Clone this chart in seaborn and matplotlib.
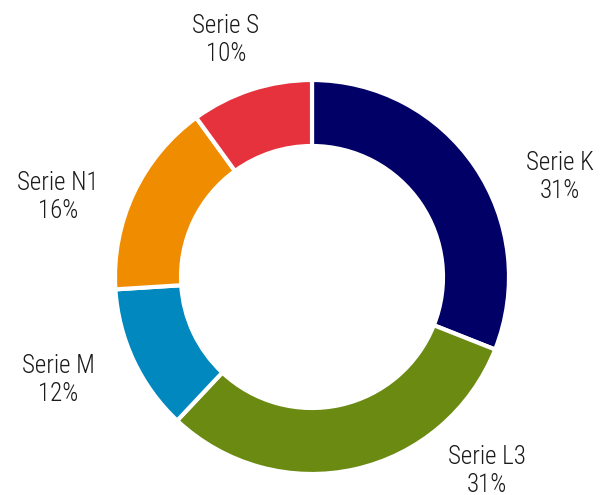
import matplotlib
matplotlib.use("Agg")
import matplotlib.pyplot as plt
import seaborn as sns
from matplotlib import font_manager

series = ["Serie K", "Serie L3", "Serie M", "Serie N1", "Serie S"]
shares = [31, 31, 12, 16, 10]
colors = ["#000066", "#6A8A12", "#0088BF", "#F08C00", "#E5323C"]

# label anchor positions (pixels, top-left origin) for the two-line labels
label_x = [560, 487, 58, 58, 226]
label_y = [177, 471, 380, 197, 40]

sns.set_theme(style="white")
names = {f.name for f in font_manager.fontManager.ttflist}
fam = [f for f in ["Roboto Condensed", "Liberation Sans Narrow", "Roboto", "DejaVu Sans"] if f in names]
plt.rcParams["font.family"] = fam

W, H = 601, 495
fig = plt.figure(figsize=(W / 100, H / 100), dpi=100)
ax = fig.add_axes([0, 0, 1, 1])

cx, cy, R = 312, H - 277, 197
ax.pie(shares, colors=colors, startangle=90, counterclock=False,
       center=(cx, cy), radius=R, frame=True,
       wedgeprops=dict(width=R - 131, edgecolor="white", linewidth=3))
ax.set_xlim(0, W)
ax.set_ylim(0, H)
ax.set_aspect("equal")
ax.axis("off")

for name, v, x, y in zip(series, shares, label_x, label_y):
    ax.text(x, H - y, f"{name}\n{v}%", ha="center", va="center",
            fontsize=18, fontweight="light", fontstretch="condensed",
            color="#1a1a1a", linespacing=1.25)

fig.savefig("out.png", dpi=100)
